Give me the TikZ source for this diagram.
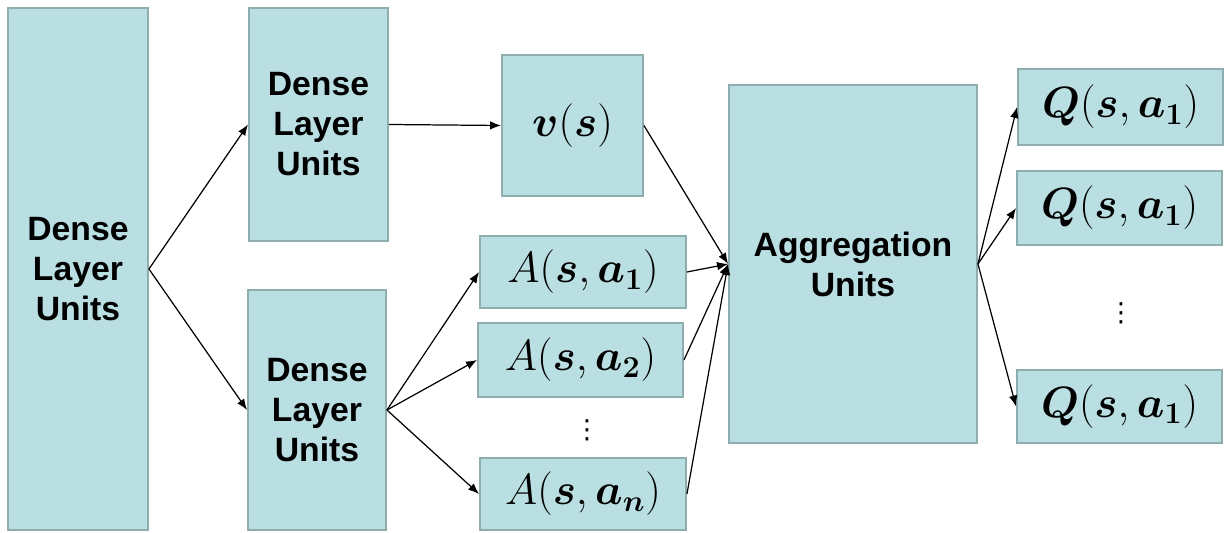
\documentclass[tikz,border=0pt]{standalone}
\usepackage{amsmath,amssymb}
\usepackage{fontspec}
\setmainfont{Liberation Sans}
\newfontfamily\dnsym{DejaVu Sans}
\usepackage{tikz}
\usetikzlibrary{arrows.meta,positioning}
\usepackage{xcolor}
\definecolor{dnfill}{HTML}{B9DFE2}
\definecolor{dnline}{HTML}{8DADAF}
\tikzset{
  dnbox/.style={draw=dnline, fill=dnfill, line width=1.1pt, rectangle, inner sep=2pt, align=center,
    font=\fontsize{19.2}{22.8}\selectfont\bfseries},
  dnmath/.style={dnbox, font=\fontsize{24.5}{28}\selectfont},
  dndots/.style={inner sep=0pt, font=\dnsym\fontsize{15}{15}\selectfont},
  dnarrow/.style={-{Latex[length=2.2mm, width=1.7mm]}, line width=0.7pt},
}
\newcommand{\bs}[1]{\boldsymbol{#1}}

\begin{document}
\begin{tikzpicture}[x=0.02cm, y=-0.02cm]
  \useasboundingbox (0,0) rectangle (1225,533);
  % dense layers
  \node[dnbox, minimum width=2.8cm, minimum height=10.44cm] (In) at (78,269) {Dense\\Layer\\Units};
  \node[dnbox, minimum width=2.78cm, minimum height=4.66cm] (D1) at (318.5,124.5) {Dense\\Layer\\Units};
  \node[dnbox, minimum width=2.76cm, minimum height=4.8cm] (D2) at (317,410) {Dense\\Layer\\Units};
  % value and advantage streams
  \node[dnmath, minimum width=2.82cm, minimum height=2.82cm] (V) at (572.5,125.5) {$\bs{v}(\bs{s})$};
  \node[dnmath, minimum width=4.12cm, minimum height=1.44cm] (A1) at (583,272) {$A(\bs{s},\bs{a_1})$};
  \node[dnmath, minimum width=4.1cm, minimum height=1.48cm] (A2) at (580.5,360) {$A(\bs{s},\bs{a_2})$};
  \node[dnmath, minimum width=4.12cm, minimum height=1.44cm] (An) at (583,494) {$A(\bs{s},\bs{a_n})$};
  \node[dndots] (Ad) at (587,430) {⋮};
  % aggregation and outputs
  \node[dnbox, minimum width=4.96cm, minimum height=7.16cm] (G) at (853,264) {Aggregation\\Units};
  \node[dnmath, minimum width=4.1cm, minimum height=1.52cm] (Q1) at (1120.5,107) {$\bs{Q}(\bs{s},\bs{a_1})$};
  \node[dnmath, minimum width=4.1cm, minimum height=1.48cm] (Q2) at (1119.5,208) {$\bs{Q}(\bs{s},\bs{a_1})$};
  \node[dnmath, minimum width=4.1cm, minimum height=1.46cm] (Qn) at (1119.5,406.5) {$\bs{Q}(\bs{s},\bs{a_1})$};
  \node[dndots] (Qd) at (1121,313) {⋮};

  \draw[dnarrow] (In.east) -- (D1.west);
  \draw[dnarrow] (In.east) -- (D2.west);
  \draw[dnarrow] (D1.east) -- (V.west);
  \draw[dnarrow] (D2.east) -- (A1.west);
  \draw[dnarrow] (D2.east) -- (A2.west);
  \draw[dnarrow] (D2.east) -- (An.west);
  \draw[dnarrow] (V.east) -- (G.west);
  \draw[dnarrow] (A1.east) -- (G.west);
  \draw[dnarrow] (A2.east) -- (G.west);
  \draw[dnarrow] (An.east) -- (G.west);
  \draw[dnarrow] (G.east) -- (Q1.west);
  \draw[dnarrow] (G.east) -- (Q2.west);
  \draw[dnarrow] (G.east) -- (Qn.west);
\end{tikzpicture}
\end{document}
